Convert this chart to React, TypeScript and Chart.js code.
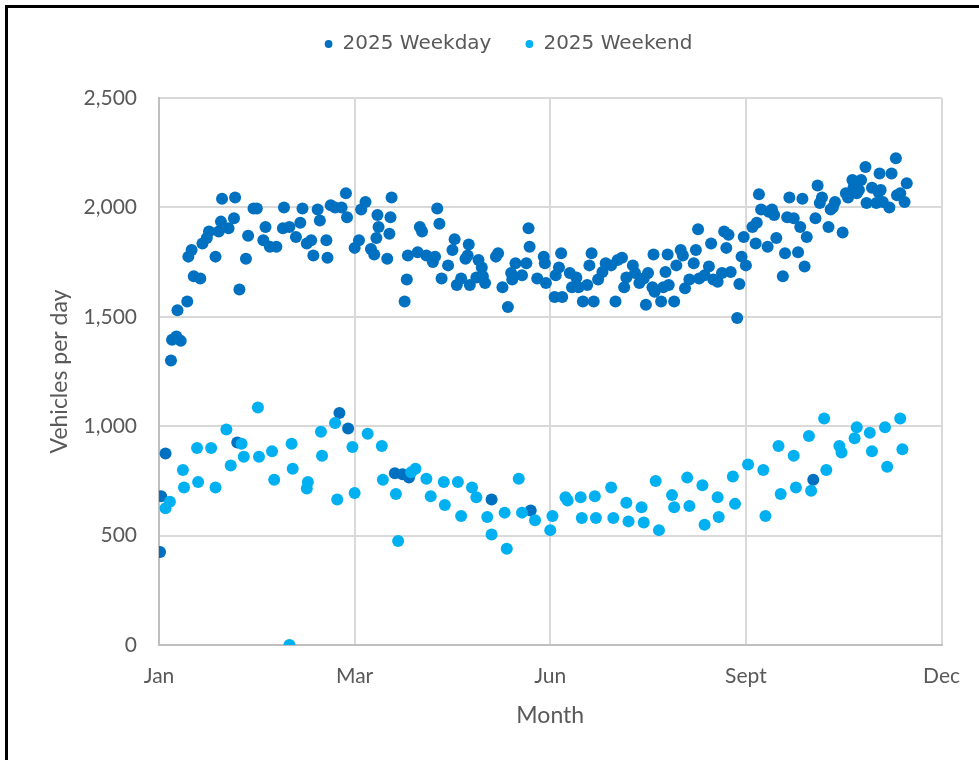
import React, { useEffect, useRef } from 'react';
import { Chart, registerables } from 'chart.js';

Chart.register(...registerables);

// Axis: day position along the year scale (Jan = 0 ... Dec = 360)
const monthLabels = ['Jan', 'Mar', 'Jun', 'Sept', 'Dec'];
const monthTickValues = [0, 90, 180, 270, 360];
const vehicleTicks = [0, 500, 1000, 1500, 2000, 2500];

const weekdayDay = [
  0.5, 1, 3, 5.5, 6, 8, 10, 8.5, 13, 13.5, 15, 16, 19, 20, 22, 23, 26, 27.5, 28.5, 29,
  32, 34.5, 35, 36, 37, 40, 41, 43.5, 45, 48, 49, 51, 54, 57, 57.5, 60, 63, 65, 66, 68,
  70, 71, 73, 74, 77, 77.5, 79, 81, 83, 84, 86, 86.5, 87, 90, 92, 93, 95, 97.5, 99, 100,
  100.5, 101, 105, 106, 106.5, 107, 108.5, 112, 113, 114, 114.5, 115, 119, 120, 121, 123, 126, 127, 128, 129,
  130, 133, 135, 136, 137, 139, 141, 142, 142.5, 143, 146, 147, 148.5, 149, 150, 153, 155, 156, 158, 160.5,
  162, 162.5, 164, 167, 169, 170, 170.5, 171, 174, 177, 177.5, 178, 182, 182.5, 184, 185, 185.5, 189, 190, 192,
  193, 195, 197, 198, 199, 200, 202, 204, 205.5, 208, 210, 211, 213, 214, 215, 218, 219, 221, 223, 224,
  225, 227, 227.5, 228, 231, 232, 233, 234, 234.5, 237, 238, 240, 241, 242, 244, 246, 247, 248, 248.5, 251,
  253, 254, 255, 257, 259, 260, 261, 262, 263, 266, 267, 268, 269, 270, 273, 274.5, 275, 276, 277, 280,
  280.5, 282, 283, 284, 287, 288, 289, 290, 292, 294, 295, 296, 297, 298, 301, 302, 303, 304, 305, 308,
  309, 310, 311, 314.5, 316, 317, 319, 319.5, 321, 322, 323, 325, 325.5, 328, 330, 331, 331.5, 332, 333, 336,
  337, 339, 339.5, 341, 343, 344,
];
const weekdayVehicles = [
  425, 680, 875, 1300, 1395, 1410, 1390, 1530, 1570, 1775, 1805, 1685, 1675, 1835, 1860, 1890, 1775, 1890, 1935, 2040,
  1905, 1950, 2045, 925, 1625, 1765, 1870, 1995, 1995, 1850, 1910, 1820, 1820, 1905, 2000, 1910, 1865, 1930, 1995, 1835,
  1850, 1780, 1990, 1940, 1850, 1770, 2010, 2000, 1060, 2000, 2065, 1955, 990, 1815, 1850, 1990, 2025, 1810, 1785, 1860,
  1965, 1910, 1765, 1880, 1955, 2045, 785, 780, 1570, 1670, 1780, 765, 1795, 1910, 1890, 1780, 1750, 1775, 1995, 1925,
  1675, 1735, 1805, 1855, 1645, 1675, 1765, 1780, 1830, 1645, 1680, 1760, 1725, 1685, 1655, 665, 1775, 1790, 1635, 1545,
  1700, 1670, 1745, 1690, 1745, 1905, 1820, 615, 1675, 1775, 1745, 1655, 1590, 1690, 1725, 1790, 1590, 1700, 1635, 1680,
  1635, 1570, 1645, 1735, 1790, 1570, 1670, 1705, 1745, 1735, 1570, 1760, 1770, 1635, 1680, 1735, 1700, 1655, 1675, 1555,
  1700, 1635, 1785, 1615, 1570, 1635, 1705, 1785, 1645, 1570, 1735, 1805, 1780, 1630, 1670, 1745, 1805, 1900, 1675, 1690,
  1730, 1835, 1670, 1660, 1700, 1890, 1815, 1875, 1705, 1495, 1650, 1775, 1865, 1735, 1910, 1835, 1930, 2060, 1990, 1820,
  1980, 1990, 1965, 1860, 1685, 1790, 1955, 2045, 1950, 1795, 1910, 2040, 1730, 1865, 755, 1950, 2100, 2020, 2045, 1910,
  1990, 2000, 2025, 1885, 2065, 2045, 2125, 2090, 2065, 2080, 2125, 2185, 2020, 2090, 2020, 2070, 2155, 2080, 2025, 2000,
  2155, 2225, 2055, 2065, 2025, 2110,
];

const weekendDay = [
  3, 5, 11, 11.5, 17.5, 18, 24, 26, 31, 33, 38, 39, 45.5, 46, 52, 53, 60, 61, 61.5, 68,
  68.5, 74.5, 75, 81, 82, 89, 90, 96, 102.5, 103, 109, 110, 116, 118, 123, 125, 131, 131.5, 137.5, 139,
  144, 146, 151, 153, 159, 160, 165.5, 167, 173, 180, 181, 187, 188, 194, 194.5, 200.5, 201, 208, 209, 215,
  216, 222, 223, 228.5, 230, 236, 237, 243, 244, 250, 251, 257, 257.5, 264, 265, 271, 278, 279, 285, 286,
  292, 293, 299, 300, 306, 307, 313, 314, 320, 321, 327, 328, 334, 335, 341, 342,
];
const weekendVehicles = [
  625, 655, 800, 720, 900, 745, 900, 720, 985, 820, 920, 860, 1085, 860, 885, 755, 0, 920, 805, 715,
  745, 975, 865, 1015, 665, 905, 695, 965, 910, 755, 690, 475, 790, 805, 760, 680, 745, 640, 745, 590,
  720, 675, 585, 505, 605, 440, 760, 605, 570, 525, 590, 675, 660, 675, 580, 680, 580, 720, 580, 650,
  565, 630, 560, 750, 525, 685, 630, 765, 635, 730, 550, 675, 585, 770, 645, 825, 800, 590, 910, 690,
  865, 720, 955, 705, 1035, 800, 910, 880, 945, 995, 970, 885, 995, 815, 1035, 895,
];

const TEXT = '#595959';
const FONT = 'Lato, "Open Sans", sans-serif';
const LEGEND_BLOCK = 98;
const LEGEND_SHIFT = 37;

const legendLayoutPlugin = {
  id: 'legendLayout',
  afterInit(chart: any) {
    const lg = chart.legend;
    if (!lg) return;
    const fit = lg.fit;
    lg.fit = function () {
      fit.call(this);
      this.height = LEGEND_BLOCK;
    };
  },
  afterLayout(chart: any) {
    const lg = chart.legend;
    if (!lg) return;
    lg.left += LEGEND_SHIFT;
    lg.right += LEGEND_SHIFT;
  },
};

export default function App() {
  const ref = useRef<HTMLCanvasElement | null>(null);

  useEffect(() => {
    if (!ref.current) return;
    const chart = new Chart(ref.current, {
      type: 'scatter',
      data: {
        datasets: [
          {
            label: '2025 Weekday',
            data: weekdayDay.map((d, i) => ({ x: d, y: weekdayVehicles[i] })),
            backgroundColor: '#0070C0',
            borderColor: '#0070C0',
            borderWidth: 0,
            pointRadius: 6,
            pointHoverRadius: 6,
            order: 1,
          },
          {
            label: '2025 Weekend',
            data: weekendDay.map((d, i) => ({ x: d, y: weekendVehicles[i] })),
            backgroundColor: '#00B0F0',
            borderColor: '#00B0F0',
            borderWidth: 0,
            pointRadius: 6,
            pointHoverRadius: 6,
            order: 0,
          },
        ],
      },
      options: {
        responsive: false,
        animation: false,
        events: [],
        layout: { padding: { top: 0, left: 0, right: 36, bottom: 0 } },
        plugins: {
          legend: {
            position: 'top',
            align: 'center',
            labels: {
              usePointStyle: true,
              pointStyle: 'circle',
              boxWidth: 8,
              boxHeight: 5.5,
              padding: 34,
              color: TEXT,
              font: { family: '"DejaVu Sans", sans-serif', size: 20 },
              sort: (a: any, b: any) => a.datasetIndex - b.datasetIndex,
            },
          },
          tooltip: { enabled: false },
        },
        scales: {
          x: {
            type: 'linear',
            min: monthTickValues[0],
            max: monthTickValues[monthTickValues.length - 1],
            afterFit(s: any) {
              s.height = 115;
            },
            afterBuildTicks(s: any) {
              s.ticks = monthTickValues.map((v) => ({ value: v }));
            },
            ticks: {
              callback: (v: any) => {
                const i = monthTickValues.indexOf(Number(v));
                return i >= 0 ? monthLabels[i] : '';
              },
              color: TEXT,
              font: { family: FONT, size: 21 },
              padding: 19,
              maxRotation: 0,
              autoSkip: false,
            },
            grid: { color: '#D9D9D9', lineWidth: 2, drawTicks: false },
            border: { color: '#BFBFBF', width: 2 },
            title: {
              display: true,
              text: 'Month',
              color: TEXT,
              font: { family: FONT, size: 23 },
              padding: { top: 0, bottom: 31 },
            },
          },
          y: {
            min: vehicleTicks[0],
            max: vehicleTicks[vehicleTicks.length - 1],
            afterFit(s: any) {
              s.width = 159;
            },
            afterBuildTicks(s: any) {
              s.ticks = vehicleTicks.map((v) => ({ value: v }));
            },
            ticks: {
              callback: (v: any) => Number(v).toLocaleString('en-US'),
              color: TEXT,
              font: { family: FONT, size: 21 },
              padding: 22,
            },
            grid: { color: '#D9D9D9', lineWidth: 2, drawTicks: false },
            border: { color: '#BFBFBF', width: 2 },
            title: {
              display: true,
              text: 'Vehicles per day',
              color: TEXT,
              font: { family: FONT, size: 23 },
              padding: { top: 46, bottom: 0 },
            },
          },
        },
      } as any,
      plugins: [legendLayoutPlugin as any],
    });
    return () => chart.destroy();
  }, []);

  return (
    <div style={{ position: 'fixed', left: 0, top: 0, width: 979, height: 760, background: '#fff', overflow: 'hidden' }}>
      <div
        style={{
          position: 'absolute',
          left: 5,
          top: 5,
          width: 1100,
          height: 900,
          border: '3px solid #000',
          boxSizing: 'border-box',
        }}
      />
      <canvas ref={ref} width={979} height={760} style={{ position: 'absolute', left: 0, top: 0, width: 979, height: 760 }} />
    </div>
  );
}
